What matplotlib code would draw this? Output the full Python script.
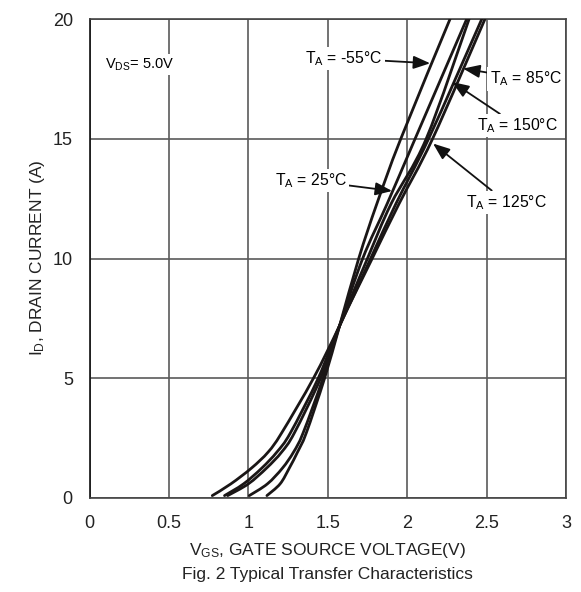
import matplotlib
matplotlib.use("Agg")
import matplotlib.pyplot as plt
from matplotlib.path import Path
from matplotlib.patches import PathPatch

plt.rcParams['font.family'] = ['Liberation Sans', 'DejaVu Sans']
plt.rcParams['mathtext.fontset'] = 'custom'
plt.rcParams['mathtext.rm'] = 'Liberation Sans'
plt.rcParams['mathtext.it'] = 'Liberation Sans'

# Drain current points (A) shared by all curves
i_d = [0.1, 0.59, 1.25, 1.92, 2.72, 5.0, 7.2, 10.0, 12.3, 15.0, 20.0]

# Gate-source voltage (V) per curve
v_150 = [0.773, 0.89, 1.02, 1.125, 1.21, 1.41, 1.575, 1.77, 1.93, 2.135, 2.47]
v_125 = [0.85, 0.97, 1.085, 1.18, 1.265, 1.44, 1.575, 1.78, 1.95, 2.16, 2.49]
v_85 = [0.87, 1.00, 1.115, 1.21, 1.29, 1.455, 1.575, 1.75, 1.90, 2.12, 2.39]
v_25 = [1.006, 1.12, 1.215, 1.285, 1.345, 1.47, 1.575, 1.72, 1.875, 2.05, 2.375]
v_m55 = [1.117, 1.20, 1.258, 1.31, 1.365, 1.48, 1.575, 1.695, 1.81, 1.96, 2.27]

x_ticks = [0, 0.5, 1, 1.5, 2, 2.5, 3]
x_tick_labels = ['0', '0.5', '1', '1.5', '2', '2.5', '3']
y_ticks = [0, 5, 10, 15, 20]


def smooth_path(xs, ys):
    """Smooth curve through the given points (Catmull-Rom drawn as Bezier segments)."""
    pts = list(zip(xs, ys))
    verts = [pts[0]]
    codes = [Path.MOVETO]
    n = len(pts)
    for k in range(n - 1):
        p0 = pts[k - 1] if k > 0 else pts[k]
        p1 = pts[k]
        p2 = pts[k + 1]
        p3 = pts[k + 2] if k + 2 < n else pts[k + 1]
        c1 = (p1[0] + (p2[0] - p0[0]) / 6.0, p1[1] + (p2[1] - p0[1]) / 6.0)
        c2 = (p2[0] - (p3[0] - p1[0]) / 6.0, p2[1] - (p3[1] - p1[1]) / 6.0)
        verts += [c1, c2, p2]
        codes += [Path.CURVE4, Path.CURVE4, Path.CURVE4]
    return Path(verts, codes)


fig = plt.figure(figsize=(5.81, 5.92), dpi=100)
ax = fig.add_axes([89.5 / 581, 1 - 498 / 592, 476.5 / 581, 479 / 592])

for v in (v_150, v_125, v_85, v_25, v_m55):
    ax.add_patch(PathPatch(smooth_path(v, i_d), fc='none', ec='#1a1616', lw=2.0,
                           capstyle='round', zorder=3, clip_on=True))

ax.set_xlim(0, 3)
ax.set_ylim(0, 20)
ax.set_xticks(x_ticks)
ax.set_xticklabels(x_tick_labels)
ax.set_yticks(y_ticks)
ax.tick_params(length=0, labelsize=13, colors='#222222')
ax.tick_params(axis='x', pad=12)
ax.tick_params(axis='y', pad=12)
ax.grid(True, color='#5a5a5a', lw=1.2, zorder=1)
for s in ax.spines.values():
    s.set_color('#444444')
    s.set_linewidth(1.2)
ax.spines['left'].set_color('#111111')

bbox = dict(boxstyle='square,pad=0.15', fc='white', ec='none')

ax.text(0.1, 18.1, r'$\mathrm{V_{DS}}$= 5.0V', fontsize=10.5, ha='left', va='center',
        bbox=bbox, zorder=4)

arrow = dict(arrowstyle='-|>,head_length=0.9,head_width=0.35', color='#111111', lw=1.3,
             shrinkA=0, shrinkB=0)
fs = 11.3
ax.annotate(r'$\mathrm{T_A}$ = -55°C', xy=(2.145, 18.15), xytext=(1.845, 18.35),
            ha='right', va='center', fontsize=fs, bbox=bbox, arrowprops=arrow, zorder=5)
ax.annotate(r'$\mathrm{T_A}$ = 25°C', xy=(1.905, 12.82), xytext=(1.62, 13.25),
            ha='right', va='center', fontsize=fs, bbox=bbox, arrowprops=arrow, zorder=5)
ax.annotate(r'$\mathrm{T_A}$ = 85°C', xy=(2.352, 17.93), xytext=(2.52, 17.5),
            ha='left', va='center', fontsize=fs, bbox=bbox, arrowprops=arrow, zorder=5)
ax.annotate(r'$\mathrm{T_A}$ = 150°C', xy=(2.283, 17.37), xytext=(2.44, 15.55),
            ha='left', va='center', fontsize=fs, bbox=bbox, arrowprops=arrow, zorder=5)
ax.annotate(r'$\mathrm{T_A}$ = 125°C', xy=(2.163, 14.8), xytext=(2.37, 12.35),
            ha='left', va='center', fontsize=fs, bbox=bbox, arrowprops=arrow, zorder=5)

fig.text(327 / 581, 1 - 550 / 592, r'$\mathrm{V_{GS}}$, GATE SOURCE VOLTAGE(V)',
         ha='center', va='center', fontsize=12.5, color='#222222')
fig.text(327 / 581, 1 - 575 / 592, 'Fig. 2 Typical Transfer Characteristics',
         ha='center', va='center', fontsize=12.5, color='#222222')
fig.text(38 / 581, 1 - 258 / 592, r'$\mathrm{I_D}$, DRAIN CURRENT (A)', rotation=90,
         ha='center', va='center', fontsize=12.5, color='#222222')

fig.savefig('out.png', dpi=100, facecolor='white')
